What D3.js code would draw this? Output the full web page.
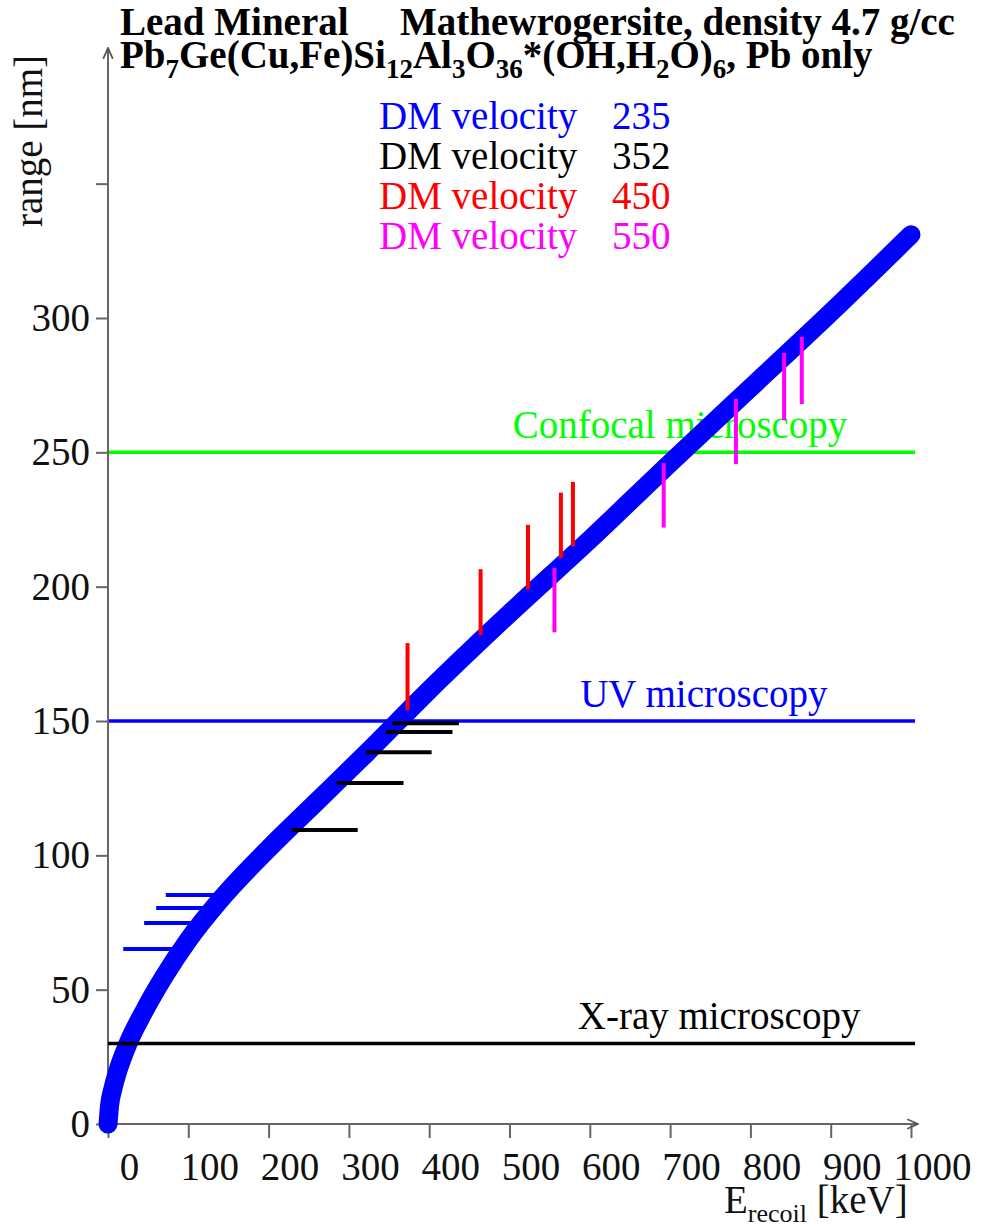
<!DOCTYPE html>
<html><head><meta charset="utf-8">
<script src="https://cdn.jsdelivr.net/npm/d3@7"></script>
<style>body{margin:0;background:#fff}</style>
</head><body><svg id="c" width="983" height="1229"></svg>
<script>
// ---- data ----
const curveE = [0, 2, 6, 12, 25, 45, 70, 100, 140, 200, 260, 320, 400, 500, 600, 700, 800, 900, 1000];
const curveR = [0, 7, 13, 19.5, 30, 42, 55, 68.5, 83.5, 102.5, 120, 137.5, 161.5, 190, 217.5, 246, 274, 302, 331];

const v235E0 = [72, 60, 45, 19];
const v235E1 = [148, 137, 117, 92];
const v235R  = [85.2, 80.4, 74.8, 65.1];

const v352E0 = [354, 346, 321, 285, 229];
const v352E1 = [437, 429, 403, 368, 311];
const v352R  = [149.2, 145.9, 138.4, 126.9, 109.4];

const v450E  = [373, 464, 523, 564, 579];
const v450R0 = [154, 182, 199, 210.6, 215];
const v450R1 = [179, 206.5, 223, 235, 239];

const v550E  = [556, 692, 782, 842, 864];
const v550R0 = [207, 246, 270, 287, 293];
const v550R1 = [183, 222, 245.6, 262, 268];

const legendVel = [235, 352, 450, 550];
const refLevels = [250, 150, 30];
const refLabels = ["Confocal microscopy", "UV microscopy", "X-ray microscopy"];
const xTicks = [0, 100, 200, 300, 400, 500, 600, 700, 800, 900, 1000];
const yTicks = [0, 50, 100, 150, 200, 250, 300, 350];
const yTickLabels = ["0", "50", "100", "150", "200", "250", "300", ""];

// ---- styles ----
const legendColors = ["#0000ff", "#000000", "#ff0000", "#ff00ff"];
const refColors = ["#00ff00", "#0000ff", "#000000"];
const FONT = "'Liberation Serif','Times New Roman',serif";

const svg = d3.select("#c");
svg.append("rect").attr("width", 983).attr("height", 1229).attr("fill", "#fff");

const x = d3.scaleLinear().domain([0, 1000]).range([108, 911]);
const y = d3.scaleLinear().domain([0, 300]).range([1124, 318]);

const defs = svg.append("defs");
defs.append("marker").attr("id", "arr").attr("viewBox", "0 0 10 10").attr("refX", 9).attr("refY", 5)
  .attr("markerWidth", 6).attr("markerHeight", 6).attr("orient", "auto")
  .append("path").attr("d", "M0,1 L9,5 L0,9").attr("fill", "none").attr("stroke", "#555").attr("stroke-width", 1.5);

// reference labels
refLevels.forEach((lv, i) => {
  svg.append("text").attr("x", x([504, 588, 585][i])).attr("y", y(lv) - 14)
    .attr("font-family", FONT).attr("font-size", 39).attr("fill", refColors[i]).text(refLabels[i]);
});
[0, 1].forEach(i => {
  svg.append("line").attr("x1", x(0)).attr("x2", x(1005)).attr("y1", y(refLevels[i])).attr("y2", y(refLevels[i]))
    .attr("stroke", refColors[i]).attr("stroke-width", 3.5);
});

// axes
const yAxis = d3.axisLeft(y).tickValues(yTicks).tickSize(12).tickPadding(6)
  .tickFormat((d, i) => yTickLabels[i]);
const gy = svg.append("g").attr("transform", `translate(${x(0)},0)`).call(yAxis);
gy.select(".domain").remove();
gy.selectAll(".tick line").attr("stroke", "#666").attr("stroke-width", 2);
gy.selectAll(".tick text").attr("font-family", FONT).attr("font-size", 39).attr("fill", "#111");

const xAxis = d3.axisBottom(x).tickValues(xTicks).tickSize(14).tickFormat(d3.format("d"));
const gx = svg.append("g").attr("transform", `translate(0,${y(0)})`).call(xAxis);
gx.select(".domain").remove();
gx.selectAll(".tick line").attr("stroke", "#666").attr("stroke-width", 2);
gx.selectAll(".tick text").attr("font-family", FONT).attr("font-size", 39).attr("fill", "#111")
  .attr("dx", 21).attr("y", 56).attr("dy", 0);

svg.append("line").attr("x1", x(0)).attr("x2", x(0)).attr("y1", y(0) + 2).attr("y2", 48)
  .attr("stroke", "#666").attr("stroke-width", 2).attr("marker-end", "url(#arr)");
svg.append("line").attr("x1", x(0) - 2).attr("x2", 918).attr("y1", y(0)).attr("y2", y(0))
  .attr("stroke", "#666").attr("stroke-width", 2).attr("marker-end", "url(#arr)");

// curve
const pts = curveE.map((e, i) => [e, curveR[i]]);
svg.append("path").datum(pts)
  .attr("d", d3.line().x(d => x(d[0])).y(d => y(d[1])).curve(d3.curveMonotoneX))
  .attr("fill", "none").attr("stroke", "#0000ff").attr("stroke-width", 19)
  .attr("stroke-linecap", "round").attr("stroke-linejoin", "round");

svg.append("line").attr("x1", x(0)).attr("x2", x(1005)).attr("y1", y(refLevels[2])).attr("y2", y(refLevels[2]))
  .attr("stroke", refColors[2]).attr("stroke-width", 3.5);

function hbars(E0, E1, R, col) {
  svg.append("g").selectAll("line").data(R).join("line")
    .attr("x1", (d, i) => x(E0[i])).attr("x2", (d, i) => x(E1[i]))
    .attr("y1", d => y(d)).attr("y2", d => y(d))
    .attr("stroke", col).attr("stroke-width", 4);
}
function vbars(E, R0, R1, col) {
  svg.append("g").selectAll("line").data(E).join("line")
    .attr("x1", d => x(d)).attr("x2", d => x(d))
    .attr("y1", (d, i) => y(R0[i])).attr("y2", (d, i) => y(R1[i]))
    .attr("stroke", col).attr("stroke-width", 4);
}
hbars(v235E0, v235E1, v235R, legendColors[0]);
hbars(v352E0, v352E1, v352R, legendColors[1]);
vbars(v450E, v450R0, v450R1, legendColors[2]);
vbars(v550E, v550R0, v550R1, legendColors[3]);

// legend
legendVel.forEach((v, i) => {
  const t = svg.append("text").attr("y", 129 + i * 40).attr("font-family", FONT).attr("font-size", 39)
    .attr("fill", legendColors[i]);
  t.append("tspan").attr("x", 379).text("DM velocity");
  t.append("tspan").attr("x", 612).text(String(v));
});

// title
const t1 = svg.append("text").attr("y", 35).attr("font-family", FONT).attr("font-size", 39).attr("font-weight", "bold");
t1.append("tspan").attr("x", 120).text("Lead Mineral");
t1.append("tspan").attr("x", 400).text("Mathewrogersite, density 4.7 g/cc");

const t2 = svg.append("text").attr("x", 120).attr("y", 68).attr("font-family", FONT).attr("font-size", 39).attr("font-weight", "bold");
const parts = [["Pb", 0], ["7", 1], ["Ge(Cu,Fe)Si", 0], ["12", 1], ["Al", 0], ["3", 1], ["O", 0], ["36", 1],
  ["*(OH,H", 0], ["2", 1], ["O)", 0], ["6", 1], [", Pb only", 0]];
parts.forEach(([s, sub]) => {
  const ts = t2.append("tspan").text(s).attr("y", sub ? 78 : 68);
  if (sub) ts.attr("font-size", 27);
});

// axis titles
svg.append("text").attr("transform", "translate(42,141) rotate(-90)").attr("text-anchor", "middle")
  .attr("font-family", FONT).attr("font-size", 39).attr("fill", "#111").text("range [nm]");
const xt = svg.append("text").attr("x", 724).attr("y", 1213).attr("font-family", FONT).attr("font-size", 39).attr("fill", "#111");
xt.append("tspan").text("E");
xt.append("tspan").attr("font-size", 26).attr("y", 1222).text("recoil");
xt.append("tspan").attr("y", 1213).text(" [keV]");
</script></body></html>
